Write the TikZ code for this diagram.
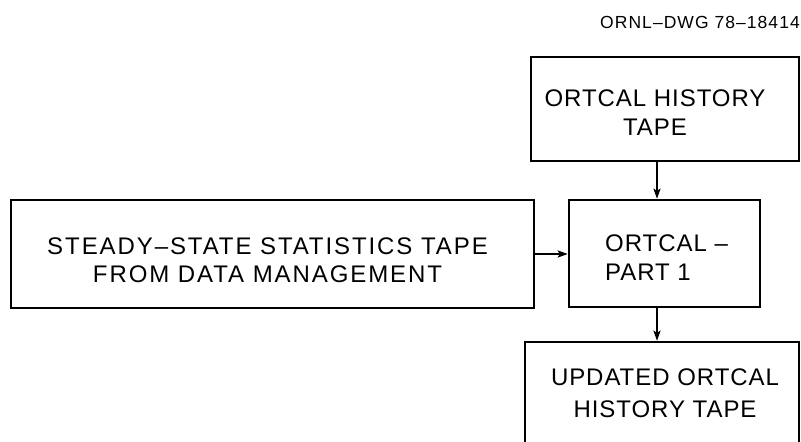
\documentclass[tikz,border=0pt]{standalone}
\usepackage{fontspec}
\setmainfont{Liberation Sans}
\newfontfamily\boxfont[LetterSpace=4]{Liberation Sans}
\newfontfamily\widefont[LetterSpace=8]{Liberation Sans}
\newfontfamily\tagfont[LetterSpace=6]{Liberation Sans}
\usetikzlibrary{arrows.meta}
\begin{document}
\begin{tikzpicture}[x=1pt,y=-1pt,
  tapebox/.style={draw, line width=2.5pt, rectangle, inner sep=0pt},
  lbl/.style={align=center, inner sep=0pt,
    font=\boxfont\fontsize{24}{29.5}\selectfont},
  flow/.style={line width=2pt, -{Stealth[length=10pt,width=7pt,inset=2pt]}}]
  \useasboundingbox (0,0) rectangle (801,442);

  % drawing number
  \node[anchor=east, inner sep=0pt, font=\tagfont\fontsize{17.5}{20}\selectfont]
    (dwg) at (800,22) {ORNL–DWG 78–18414};

  % boxes
  \node[tapebox, minimum width=268pt, minimum height=104pt] (hist) at (665,109) {};
  \node[tapebox, minimum width=191pt, minimum height=107pt] (part) at (664.5,253.5) {};
  \node[tapebox, minimum width=523pt, minimum height=108pt] (stat) at (272.5,254) {};
  \node[tapebox, minimum width=274pt, minimum height=103pt] (upd) at (662,393.5) {};

  % box texts
  \node[lbl] (histtxt) at ([xshift=-10pt,yshift=-3.5pt]hist.center) {ORTCAL HISTORY\\TAPE};
  \node[lbl, align=left, anchor=west] (parttxt)
    at ([yshift=-4pt]part.center -| 605,0) {ORTCAL –\\PART 1};
  \node[lbl, font=\widefont\fontsize{24}{28.5}\selectfont] (stattxt)
    at ([xshift=-5pt,yshift=-6pt]stat.center) {STEADY–STATE STATISTICS TAPE\\FROM DATA MANAGEMENT};
  \node[lbl, font=\boxfont\fontsize{24}{32}\selectfont] (updtxt)
    at ([xshift=3pt]upd.center) {UPDATED ORTCAL\\HISTORY TAPE};

  % connectors
  \coordinate (col) at (657,0);
  \draw[flow] (hist.south -| col) -- (part.north -| col);
  \draw[flow] (part.south -| col) -- (upd.north -| col);
  \draw[flow] (stat.east) -- (stat.east -| part.west);
\end{tikzpicture}
\end{document}
